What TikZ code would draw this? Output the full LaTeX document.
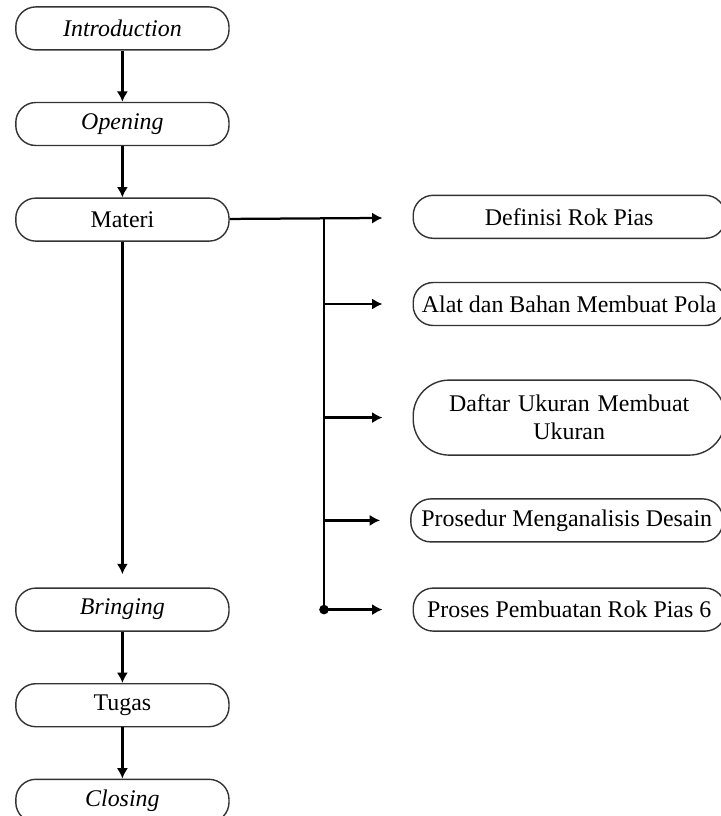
\documentclass[tikz,border=0pt]{standalone}
\usepackage{fontspec}
\setmainfont{Liberation Serif}
\usetikzlibrary{arrows.meta,calc}
\usetikzlibrary{positioning,shapes}
\tikzstyle{line}=[-, line width=1.6pt]
\tikzstyle{arrow}=[->, line width=1.6pt, >={Latex[length=2.6mm,width=2.8mm]}]
\tikzstyle{stage}=[rectangle, draw=black!80, line width=1pt, fill=white, text=black,
		minimum width=5.33cm, minimum height=1.075cm, align=center,
		rounded corners=0.5cm, font=\fontsize{17}{20}\selectfont]
\tikzstyle{topic}=[stage, minimum width=7.8cm]

\begin{document}
\begin{tikzpicture}[node distance=1.28cm]
    \useasboundingbox (0,0) rectangle (18,-20.4);

    \node (Intro) [stage] at (3.06,-0.71) {\textit{Introduction}};
    \node (Opening) [stage, below=of Intro] {\textit{Opening}};
    \node (Materi) [stage, below=of Opening] {Materi};
    \node (Bringing) [stage] at (3.06,-15.24) {\textit{Bringing}};
    \node (Tugas) [stage, below=of Bringing] {Tugas};
    \node (Closing) [stage, below=of Tugas] {\textit{Closing}};

    \node (Definisi) [topic] at (14.23,-5.42) {Definisi Rok Pias};
    \node (Alat) [topic] at (14.23,-7.6) {Alat dan Bahan Membuat Pola};
    \node (Daftar) [topic, text width=7cm, minimum height=1.875cm,
    		       rounded corners=0.9cm] at (14.23,-10.44)
    		       {Daftar Ukuran Membuat\\ Ukuran};
    \node (Prosedur) [topic] at (14.17,-13.01) {Prosedur Menganalisis Desain};
    \node (Proses) [topic] at (14.23,-15.24) {Proses Pembuatan Rok Pias 6};

    \coordinate (Fork) at (8.1,-5.42);
    \coordinate (ForkEnd) at (Fork |- Proses);

    \draw [arrow] (Intro) -- (Opening);
    \draw [arrow] (Opening) -- (Materi);
    \draw [arrow, shorten >=0.33cm] (Materi) -- (Bringing);
    \draw [arrow] (Bringing) -- (Tugas);
    \draw [arrow] (Tugas) -- (Closing);

    \draw [arrow, shorten >=0.75cm] (Materi) -- (Definisi);
    \draw [line] (Fork) -- (ForkEnd);
    \fill (ForkEnd) circle (0.12cm);
    \foreach \t in {Alat,Daftar,Prosedur,Proses}
      \draw [arrow, shorten >=0.75cm] (Fork |- \t) -- (\t.west);

\end{tikzpicture}
\end{document}
